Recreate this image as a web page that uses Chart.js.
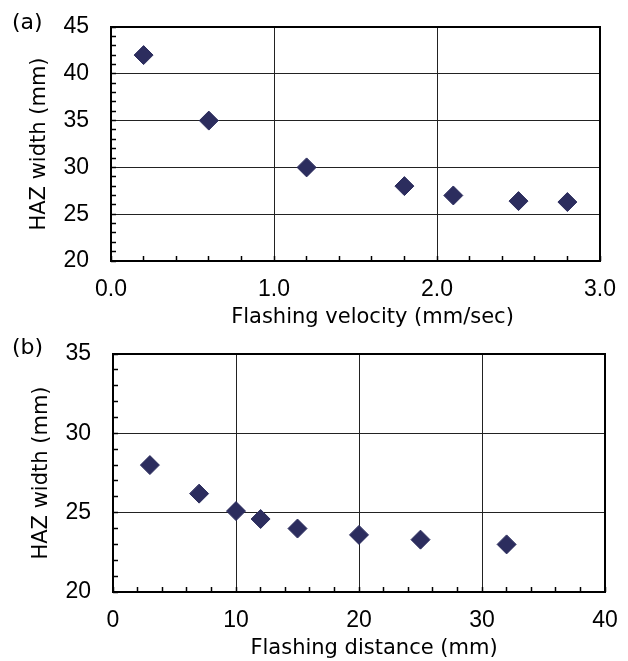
<!DOCTYPE html>
<html>
<head>
<meta charset="utf-8">
<script src="https://cdn.jsdelivr.net/npm/chart.js@4.4.1/dist/chart.umd.min.js"></script>
<style>
  html, body { margin: 0; padding: 0; background: #fff; }
  #wrap { position: relative; width: 628px; height: 661px; }
  .panel { position: absolute; left: 0; width: 628px; }
  .tag { position: absolute; left: 12px; font: 22px "DejaVu Sans", sans-serif; color: #000; }
</style>
</head>
<body>
<div id="wrap">
  <div class="panel" style="top:0;height:330px"><canvas id="chartA" width="628" height="330"></canvas></div>
  <div class="panel" style="top:330px;height:331px"><canvas id="chartB" width="628" height="331"></canvas></div>
  <div class="tag" style="top:9px">(a)</div>
  <div class="tag" style="top:334px">(b)</div>
</div>
<script>
// (a) HAZ width vs flashing velocity
const velocity = [0.2, 0.6, 1.2, 1.8, 2.1, 2.5, 2.8];
const hazByVelocity = [42.0, 35.0, 30.0, 28.0, 27.0, 26.4, 26.3];

// (b) HAZ width vs flashing distance
const distance = [3, 7, 10, 12, 15, 20, 25, 32];
const hazByDistance = [28.0, 26.2, 25.1, 24.6, 24.0, 23.6, 23.3, 23.0];

const markerColor = '#2c2d5e';
const tickFont = { family: 'Liberation Sans', size: 23 };
const titleFont = { family: 'DejaVu Sans', size: 21 };

function isMajor(v, step) {
    return Math.abs(v / step - Math.round(v / step)) < 1e-6;
}

function axisGrid(major) {
    return {
        color: c => isMajor(c.tick.value, major) ? '#222' : 'rgba(0,0,0,0)',
        lineWidth: 1,
        drawTicks: true,
        tickLength: -5,
        tickWidth: 1.5,
        tickColor: '#000'
    };
}

// thick box round the plot area
const framePlugin = {
    id: 'frame',
    beforeDatasetsDraw(chart) {
        const { ctx, chartArea: a } = chart;
        ctx.save();
        ctx.strokeStyle = '#000';
        ctx.lineWidth = 2;
        ctx.strokeRect(a.left, a.top, a.right - a.left, a.bottom - a.top);
        ctx.restore();
    }
};

function makeChart(id, xs, ys, c) {
    const h = document.getElementById(id).height;
    const chart = new Chart(document.getElementById(id), {
        type: 'scatter',
        data: {
            datasets: [{
                data: xs.map((x, i) => ({ x: x, y: ys[i] })),
                pointStyle: 'rectRot',
                pointRadius: 9.5,
                pointHoverRadius: 9.5,
                backgroundColor: markerColor,
                borderColor: markerColor,
                borderWidth: 1
            }]
        },
        options: {
            responsive: false,
            animation: false,
            layout: { padding: { left: 0, top: c.top, right: 628 - c.right, bottom: 0 } },
            plugins: { legend: { display: false }, tooltip: { enabled: false } },
            scales: {
                x: {
                    type: 'linear', position: 'bottom',
                    min: c.xMin, max: c.xMax,
                    afterFit: s => {
                        s.height = h - c.bottom;
                        s.paddingLeft = 0; s.paddingRight = 0;
                    },
                    border: { display: false },
                    grid: axisGrid(c.xMajor),
                    ticks: {
                        stepSize: c.xMinor, autoSkip: false, maxRotation: 0, padding: 20,
                        color: '#000', font: tickFont,
                        callback: v => isMajor(v, c.xMajor) ? v.toFixed(c.xDigits) : ''
                    },
                    title: { display: true, text: c.xTitle, color: '#000', font: titleFont, padding: { top: 0, bottom: 0 } }
                },
                y: {
                    type: 'linear', position: 'left',
                    min: c.yMin, max: c.yMax,
                    afterFit: s => {
                        s.width = c.left;
                        s.paddingTop = 0; s.paddingBottom = 0;
                    },
                    border: { display: false },
                    grid: axisGrid(c.yMajor),
                    ticks: {
                        stepSize: c.yMinor, autoSkip: false, padding: 27,
                        color: '#000', font: tickFont,
                        callback: v => isMajor(v, c.yMajor) ? String(Math.round(v)) : ''
                    },
                    title: { display: true, text: 'HAZ width (mm)', color: '#000', font: titleFont, padding: { top: c.yTitlePad, bottom: 0 } }
                }
            }
        },
        plugins: [framePlugin]
    });

    // the x title sits a little right of the plot centre in the original
    const xs_ = chart.scales.x;
    const baseDrawTitle = xs_.drawTitle;
    xs_.drawTitle = function () {
        this.ctx.save();
        this.ctx.translate(c.xTitleShift, 0);
        baseDrawTitle.call(this);
        this.ctx.restore();
    };
    chart.draw();
    return chart;
}

makeChart('chartA', velocity, hazByVelocity, {
    left: 111, right: 600, top: 27, bottom: 261,
    xMin: 0, xMax: 3, xMinor: 0.2, xMajor: 1, xDigits: 1,
    yMin: 20, yMax: 45, yMinor: 1, yMajor: 5, yTitlePad: 27,
    xTitle: 'Flashing velocity (mm/sec)', xTitleShift: 17
});

makeChart('chartB', distance, hazByDistance, {
    left: 113, right: 605, top: 24, bottom: 262,
    xMin: 0, xMax: 40, xMinor: 2, xMajor: 10, xDigits: 0,
    yMin: 20, yMax: 35, yMinor: 1, yMajor: 5, yTitlePad: 29,
    xTitle: 'Flashing distance (mm)', xTitleShift: 15
});
</script>
</body>
</html>
